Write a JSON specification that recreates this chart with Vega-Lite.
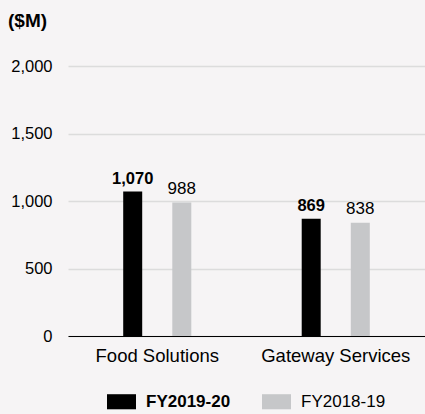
{
  "$schema": "https://vega.github.io/schema/vega-lite/v6.json",
  "width": 357,
  "height": 270,
  "padding": {"left": 8, "right": 0, "top": 12, "bottom": 5},
  "background": "#f6f4f5",
  "title": {"text": "($M)", "anchor": "start", "frame": "group", "fontSize": 19, "fontWeight": "bold", "font": "Liberation Sans", "color": "#000000", "dx": -60, "offset": 27},
  "config": {"view": {"stroke": null}, "font": "Liberation Sans", "legend": {"layout": {"bottom": {"anchor": "middle"}}}},
  "data": {"values": [
    {"segment": "Food Solutions", "year": "FY2019-20", "value": 1070},
    {"segment": "Food Solutions", "year": "FY2018-19", "value": 988},
    {"segment": "Gateway Services", "year": "FY2019-20", "value": 869},
    {"segment": "Gateway Services", "year": "FY2018-19", "value": 838}
  ]},
  "encoding": {
    "x": {"field": "segment", "type": "nominal", "sort": ["Food Solutions", "Gateway Services"],
      "scale": {"paddingInner": 0.45, "paddingOuter": 0.225},
      "axis": {"title": null, "labelAngle": 0, "labelFontSize": 18.5, "labelColor": "#000000", "domainColor": "#000000", "domainWidth": 1, "ticks": false, "labelPadding": 10}},
    "xOffset": {"field": "year", "type": "nominal", "sort": ["FY2019-20", "FY2018-19"], "scale": {"paddingInner": 0}},
    "y": {"field": "value", "type": "quantitative", "scale": {"domain": [0, 2000]},
      "axis": {"title": null, "values": [0, 500, 1000, 1500, 2000], "format": ",d", "labelFontSize": 16.5, "labelColor": "#000000", "domain": false, "ticks": false, "labelPadding": 16, "gridColor": "#dcdcdc", "gridWidth": 1.5}}
  },
  "layer": [
    {"mark": {"type": "bar", "width": 19},
     "encoding": {"color": {"field": "year", "type": "nominal",
       "scale": {"domain": ["FY2019-20", "FY2018-19"], "range": ["#000000", "#c6c7c9"]},
       "legend": {"title": null, "orient": "bottom", "direction": "horizontal",
         "symbolType": "M-1,-0.52H1V0.52H-1Z", "symbolSize": 841, "symbolStrokeWidth": 0, "symbolOpacity": 1,
         "labelFontSize": 17, "labelColor": "#000000", "labelOffset": 10, "columnPadding": 31, "offset": 22,
         "encode": {"labels": {"update": {"fontWeight": {"signal": "datum.value === 'FY2019-20' ? 'bold' : 'normal'"}}}}}}}},
    {"transform": [{"filter": "datum.year == 'FY2019-20'"}],
     "mark": {"type": "text", "fontWeight": "bold", "fontSize": 16.5, "dy": -8, "baseline": "alphabetic", "color": "#000000"},
     "encoding": {"text": {"field": "value", "type": "quantitative", "format": ",d"}}},
    {"transform": [{"filter": "datum.year == 'FY2018-19'"}],
     "mark": {"type": "text", "fontWeight": "normal", "fontSize": 17, "dy": -9, "baseline": "alphabetic", "color": "#000000"},
     "encoding": {"text": {"field": "value", "type": "quantitative", "format": ",d"}}}
  ]
}
